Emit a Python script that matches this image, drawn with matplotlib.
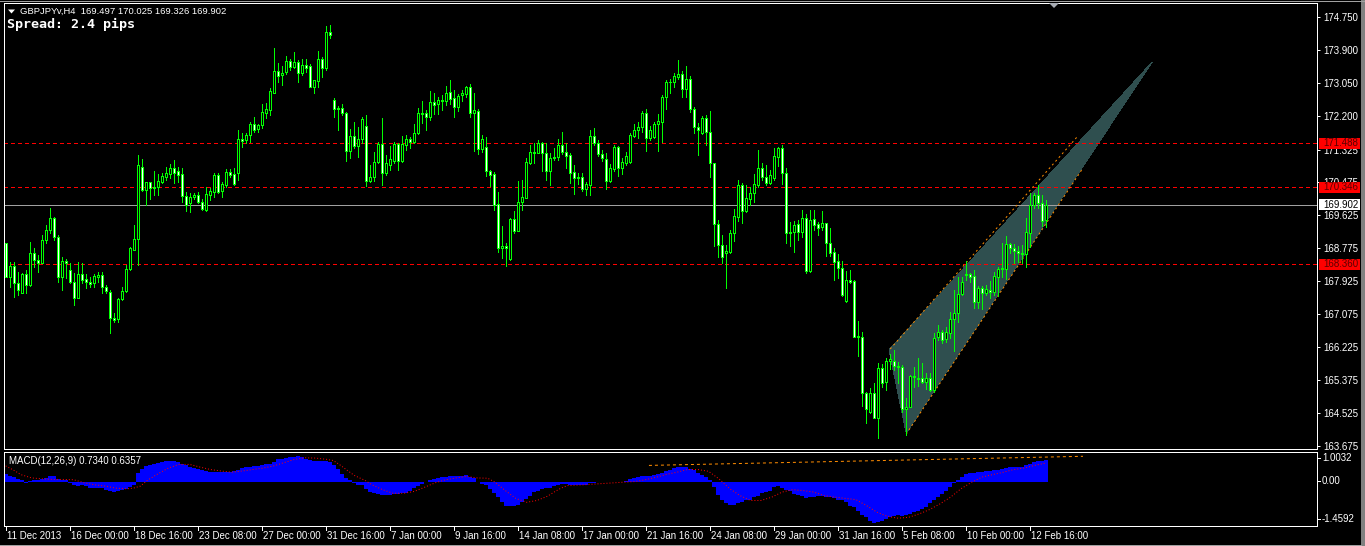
import matplotlib
matplotlib.use("Agg")
import matplotlib.pyplot as plt
from matplotlib.patches import Rectangle, Polygon
from matplotlib.collections import PatchCollection, LineCollection

plt.rcParams['font.family'] = ['Liberation Sans', 'DejaVu Sans']
plt.rcParams['lines.scale_dashes'] = False

# ---------------- text ----------------
symbol_line = "GBPJPYv,H4  169.497 170.025 169.326 169.902"
spread_text = "Spread: 2.4 pips"
macd_label = "MACD(12,26,9) 0.7340 0.6357"

# ---------------- price data (H4 bars) ----------------
opens = [
168.90, 168.04, 168.32, 167.87, 167.61, 168.11, 167.83, 168.64, 168.47, 168.40,
168.99, 169.25, 169.55, 169.06, 168.02, 168.45, 168.21, 167.89, 167.48, 168.11,
167.97, 167.90, 167.87, 168.04, 168.08, 167.77, 167.64, 166.96, 166.94, 167.46,
167.68, 168.23, 168.73, 169.01, 170.87, 170.28, 170.48, 170.33, 170.35, 170.50,
170.63, 170.69, 170.84, 170.76, 170.69, 170.13, 169.95, 170.09, 170.14, 169.97,
169.76, 170.15, 170.24, 170.67, 170.26, 170.41, 170.74, 170.69, 170.73, 171.59,
171.57, 171.69, 172.00, 171.85, 171.97, 172.28, 172.35, 172.80, 173.36, 173.25,
173.34, 173.62, 173.47, 173.60, 173.31, 173.51, 173.49, 172.95, 173.11, 173.66,
173.44, 174.37, 172.61, 172.38, 172.41, 172.28, 171.30, 171.68, 171.42, 171.59,
171.94, 170.52, 170.63, 171.01, 171.47, 170.73, 170.93, 171.04, 171.47, 171.04,
171.44, 171.60, 171.53, 171.75, 172.26, 172.26, 172.16, 172.55, 172.50, 172.61,
172.57, 172.81, 172.65, 172.42, 172.74, 172.76, 172.94, 172.28, 172.32, 171.35,
171.40, 170.78, 170.69, 169.92, 168.77, 168.83, 168.51, 169.52, 169.23, 169.97,
170.08, 170.99, 171.27, 171.25, 171.49, 171.25, 170.76, 171.10, 171.14, 171.44,
171.27, 171.19, 170.74, 170.58, 170.61, 170.31, 170.41, 171.68, 171.49, 171.21,
171.07, 170.52, 170.82, 171.40, 170.84, 170.99, 171.01, 171.68, 171.82, 171.90,
172.26, 171.62, 171.64, 171.99, 172.05, 172.68, 173.06, 173.06, 173.19, 173.28,
172.88, 173.14, 172.37, 171.90, 171.76, 172.13, 171.79, 170.97, 169.40, 168.86,
168.64, 168.69, 169.18, 169.59, 170.41, 169.75, 170.04, 170.20, 170.41, 170.84,
170.63, 170.45, 170.58, 171.14, 171.36, 170.71, 169.16, 169.20, 169.40, 169.20,
169.57, 168.20, 169.52, 169.40, 169.33, 169.42, 168.92, 168.67, 168.44, 168.26,
167.42, 167.95, 167.93, 166.49, 166.47, 165.03, 164.53, 165.04, 164.40, 165.67,
165.33, 165.86, 165.86, 165.73, 165.70, 164.61, 164.66, 165.47, 165.43, 165.41,
165.33, 165.41, 165.11, 166.47, 166.62, 166.42, 166.59, 166.94, 167.09, 167.58,
168.08, 168.11, 168.06, 167.39, 167.74, 167.63, 167.70, 167.65, 168.04, 168.23,
168.23, 168.89, 168.77, 168.70, 168.66, 168.63, 169.18, 169.89, 170.15, 169.95,
169.497]

highs = [
168.90, 168.43, 168.43, 168.17, 168.13, 168.21, 168.93, 168.77, 168.60, 169.12,
169.38, 169.81, 169.59, 169.12, 168.56, 168.51, 168.39, 168.13, 168.43, 168.39,
168.11, 168.02, 168.11, 168.17, 168.17, 167.83, 167.70, 167.09, 167.48, 167.78,
168.34, 168.82, 169.38, 171.19, 171.07, 170.50, 170.50, 170.76, 170.70, 170.73,
170.88, 170.95, 171.06, 170.88, 170.84, 170.24, 170.20, 170.21, 170.24, 170.04,
170.35, 170.33, 170.71, 170.71, 170.50, 170.82, 170.82, 170.84, 171.83, 171.75,
171.76, 172.05, 172.18, 172.00, 172.50, 172.52, 172.91, 173.94, 173.57, 173.49,
173.74, 173.66, 173.86, 173.64, 173.66, 173.66, 173.53, 173.13, 173.88, 173.71,
174.52, 174.55, 172.65, 172.45, 172.50, 172.31, 171.85, 172.04, 171.92, 172.16,
172.22, 170.93, 171.27, 171.51, 172.14, 171.19, 171.42, 171.51, 171.49, 171.68,
171.70, 171.64, 171.99, 172.39, 172.58, 172.35, 172.84, 172.78, 172.69, 172.74,
172.97, 173.13, 172.87, 172.76, 172.87, 172.97, 173.02, 172.78, 172.37, 171.70,
171.64, 170.80, 170.75, 170.23, 169.35, 168.90, 169.55, 169.75, 170.51, 170.54,
171.10, 171.44, 171.49, 171.57, 171.51, 171.49, 171.25, 171.36, 171.59, 171.79,
171.49, 171.23, 170.93, 170.71, 170.71, 170.50, 171.83, 171.88, 171.57, 171.32,
171.25, 170.95, 171.44, 171.42, 171.10, 171.27, 171.75, 171.99, 172.05, 172.32,
172.37, 171.94, 172.05, 172.24, 172.74, 173.13, 173.14, 173.30, 173.64, 173.37,
173.49, 173.23, 172.42, 172.02, 172.19, 172.22, 172.32, 170.97, 169.51, 169.12,
168.86, 169.26, 169.78, 170.54, 170.47, 170.41, 170.37, 170.70, 171.32, 170.97,
170.93, 170.80, 171.36, 171.40, 171.44, 170.84, 169.46, 169.49, 169.51, 169.76,
169.66, 169.76, 169.76, 169.46, 169.75, 169.44, 169.29, 168.77, 168.63, 168.45,
168.20, 168.21, 167.95, 166.90, 166.62, 165.07, 165.15, 165.30, 165.80, 165.78,
165.93, 166.04, 166.15, 165.84, 165.76, 164.90, 165.50, 165.71, 165.93, 165.80,
165.56, 165.54, 166.58, 166.79, 166.66, 166.75, 167.14, 167.70, 168.04, 168.02,
168.45, 168.14, 168.21, 167.80, 167.80, 167.83, 167.94, 168.17, 168.30, 168.92,
169.09, 168.92, 168.89, 168.83, 168.86, 169.55, 170.21, 170.21, 170.41, 170.15,
170.025]

lows = [
168.04, 167.78, 167.52, 167.57, 167.61, 167.61, 167.80, 168.30, 168.17, 168.39,
168.90, 169.16, 168.99, 167.91, 167.70, 168.00, 167.87, 167.31, 167.48, 167.87,
167.74, 167.78, 167.77, 167.91, 167.61, 167.61, 166.58, 166.88, 166.88, 167.44,
167.65, 168.21, 168.73, 168.33, 170.26, 169.89, 170.05, 170.15, 170.15, 170.45,
170.54, 170.58, 170.47, 170.50, 169.98, 169.75, 169.70, 170.04, 169.95, 169.76,
169.75, 170.01, 170.11, 170.21, 170.11, 170.37, 170.63, 170.41, 170.54, 171.40,
171.49, 171.53, 171.79, 171.79, 171.88, 172.13, 172.22, 172.78, 173.06, 173.00,
173.28, 173.38, 173.43, 173.08, 173.25, 173.34, 172.94, 172.80, 172.94, 173.21,
173.38, 174.22, 172.16, 171.82, 172.22, 171.04, 171.10, 171.36, 171.13, 171.49,
170.38, 170.50, 170.52, 170.97, 170.41, 170.67, 170.80, 170.97, 170.80, 171.01,
171.32, 171.36, 171.49, 171.73, 172.02, 171.82, 172.09, 172.25, 172.25, 172.35,
172.48, 172.51, 172.18, 172.33, 172.59, 172.69, 172.18, 171.30, 171.21, 171.27,
170.64, 170.38, 169.76, 168.69, 168.52, 168.32, 168.47, 169.16, 169.23, 169.76,
170.07, 170.95, 170.99, 171.23, 170.76, 170.54, 170.41, 171.06, 171.06, 171.21,
170.86, 170.47, 170.18, 170.44, 170.26, 170.15, 170.15, 171.44, 171.16, 171.04,
170.30, 170.50, 170.78, 170.64, 170.69, 170.93, 170.99, 171.66, 171.62, 171.79,
171.30, 171.57, 171.62, 171.30, 171.51, 172.37, 172.78, 172.95, 173.14, 172.68,
172.68, 172.31, 171.75, 171.19, 171.73, 171.44, 170.63, 168.83, 168.56, 168.40,
167.74, 168.64, 168.95, 169.49, 169.44, 169.70, 169.89, 169.98, 170.37, 170.54,
170.41, 170.44, 170.54, 170.90, 170.44, 168.92, 168.83, 168.69, 168.99, 169.06,
168.14, 168.17, 169.25, 169.12, 169.25, 168.58, 168.58, 167.95, 168.00, 167.54,
167.39, 167.87, 166.49, 166.00, 164.70, 164.27, 164.51, 164.38, 163.86, 165.20,
165.11, 165.65, 165.63, 165.28, 164.55, 163.95, 164.66, 165.20, 165.22, 165.28,
165.13, 165.09, 165.07, 166.40, 166.32, 166.36, 166.45, 166.13, 166.88, 167.57,
167.95, 167.91, 167.22, 167.22, 167.20, 167.57, 167.48, 167.57, 167.54, 168.04,
167.97, 168.64, 168.40, 168.43, 168.39, 168.30, 168.82, 169.81, 169.81, 169.35,
169.326]

closes = [
168.04, 168.32, 167.87, 167.70, 168.11, 167.83, 168.64, 168.47, 168.40, 168.99,
169.26, 169.55, 169.06, 168.02, 168.45, 168.39, 167.89, 167.48, 168.11, 167.95,
167.89, 167.85, 168.06, 168.08, 167.77, 167.66, 166.96, 166.92, 167.46, 167.68,
168.23, 168.77, 169.01, 170.93, 170.28, 170.50, 170.33, 170.37, 170.51, 170.64,
170.73, 170.84, 170.73, 170.67, 170.13, 169.89, 170.11, 170.15, 169.96, 169.78,
170.18, 170.26, 170.67, 170.24, 170.44, 170.74, 170.67, 170.44, 171.59, 171.56,
171.70, 172.00, 171.83, 171.96, 172.29, 172.38, 172.85, 173.36, 173.24, 173.31,
173.62, 173.47, 173.58, 173.31, 173.51, 173.44, 172.95, 173.13, 173.66, 173.44,
174.37, 174.29, 172.38, 172.41, 172.28, 171.30, 171.68, 171.42, 171.59, 172.11,
170.52, 170.61, 171.01, 171.47, 170.73, 170.97, 171.07, 171.47, 171.04, 171.47,
171.59, 171.53, 171.75, 172.26, 172.25, 172.18, 172.55, 172.49, 172.61, 172.57,
172.78, 172.63, 172.42, 172.71, 172.78, 172.94, 172.28, 172.34, 171.35, 171.59,
170.78, 170.68, 169.89, 168.77, 168.83, 168.77, 169.52, 169.23, 169.98, 170.09,
171.01, 171.27, 171.23, 171.49, 171.25, 170.76, 171.10, 171.14, 171.44, 171.27,
171.17, 170.73, 170.58, 170.61, 170.31, 170.44, 171.68, 171.49, 171.20, 171.12,
170.52, 170.84, 171.38, 170.84, 171.01, 171.16, 171.70, 171.83, 171.90, 172.26,
171.62, 171.83, 171.99, 172.06, 172.68, 173.06, 173.08, 173.23, 173.28, 172.88,
173.14, 172.37, 171.90, 171.83, 172.13, 171.79, 170.97, 169.40, 168.86, 168.54,
168.70, 169.16, 169.61, 170.41, 169.75, 170.07, 170.21, 170.44, 170.84, 170.63,
170.45, 170.67, 171.16, 171.36, 170.71, 169.16, 169.20, 169.38, 169.20, 169.57,
168.20, 169.51, 169.38, 169.29, 169.44, 168.92, 168.66, 168.43, 168.26, 167.57,
167.95, 167.91, 166.49, 166.51, 165.03, 164.61, 165.04, 164.40, 165.67, 165.30,
165.86, 165.90, 165.73, 165.70, 164.61, 164.66, 165.47, 165.44, 165.39, 165.33,
165.41, 165.11, 166.45, 166.62, 166.40, 166.62, 166.94, 167.09, 167.58, 167.89,
168.11, 168.04, 167.39, 167.74, 167.63, 167.71, 167.65, 168.06, 168.23, 168.26,
168.89, 168.77, 168.70, 168.66, 168.63, 169.20, 169.89, 170.15, 169.95, 169.49,
169.902]

# horizontal lines and price scale
red_levels = [171.488, 170.346, 168.360]
bid_price = 169.902
price_ticks = [174.750, 173.900, 173.050, 172.200, 171.325, 170.475, 169.625,
               168.775, 167.925, 167.075, 166.225, 165.375, 164.525, 163.675]
price_range = (163.586, 175.115)

# drawn channel object (bar position, price)
channel_fill = [(220.8, 166.145), (225.1, 164.00), (286.6, 173.59)]
channel_upper = [(221.1, 166.17), (267.8, 171.65)]
channel_lower = [(225.1, 163.97), (269.3, 170.85)]

# ---------------- MACD(12,26,9) ----------------
macd_hist = [
0.28, 0.22, 0.17, 0.11, 0.06, -0.02, 0.04, 0.07, 0.08, 0.09,
0.14, 0.19, 0.19, 0.11, 0.08, 0.07, -0.02, -0.11, -0.13, -0.11,
-0.13, -0.18, -0.19, -0.18, -0.20, -0.25, -0.31, -0.33, -0.31, -0.26,
-0.22, -0.17, -0.09, 0.30, 0.45, 0.54, 0.58, 0.61, 0.65, 0.67,
0.69, 0.70, 0.70, 0.67, 0.61, 0.56, 0.52, 0.48, 0.45, 0.39,
0.36, 0.35, 0.33, 0.33, 0.33, 0.33, 0.35, 0.38, 0.42, 0.47,
0.49, 0.51, 0.54, 0.55, 0.58, 0.59, 0.61, 0.67, 0.76, 0.78,
0.81, 0.84, 0.85, 0.86, 0.83, 0.78, 0.75, 0.70, 0.69, 0.69,
0.69, 0.67, 0.58, 0.45, 0.28, 0.14, 0.06, -0.03, -0.09, -0.11,
-0.22, -0.33, -0.37, -0.39, -0.42, -0.42, -0.42, -0.41, -0.39, -0.37,
-0.36, -0.28, -0.20, -0.13, -0.06, 0.02, 0.08, 0.11, 0.13, 0.17,
0.18, 0.19, 0.19, 0.20, 0.22, 0.25, 0.17, 0.13, 0.02, -0.06,
-0.11, -0.22, -0.36, -0.50, -0.67, -0.80, -0.81, -0.81, -0.76, -0.67,
-0.56, -0.45, -0.33, -0.28, -0.22, -0.19, -0.19, -0.14, -0.09, -0.07,
-0.06, -0.08, -0.09, -0.11, -0.11, -0.09, -0.04, -0.02, 0.00, 0.01,
0.00, -0.01, -0.01, 0.00, 0.02, 0.04, 0.09, 0.13, 0.17, 0.20,
0.22, 0.22, 0.25, 0.26, 0.31, 0.36, 0.42, 0.48, 0.50, 0.50,
0.49, 0.45, 0.39, 0.31, 0.25, 0.17, 0.08, -0.17, -0.42, -0.58,
-0.69, -0.76, -0.76, -0.69, -0.65, -0.61, -0.58, -0.50, -0.45, -0.37,
-0.33, -0.28, -0.17, -0.14, -0.20, -0.25, -0.31, -0.39, -0.42, -0.47,
-0.54, -0.50, -0.48, -0.47, -0.47, -0.48, -0.50, -0.52, -0.58, -0.61,
-0.67, -0.78, -0.84, -0.95, -1.09, -1.17, -1.28, -1.36, -1.34, -1.28,
-1.23, -1.17, -1.12, -1.09, -1.12, -1.09, -1.06, -1.00, -0.95, -0.89,
-0.84, -0.69, -0.61, -0.50, -0.39, -0.28, -0.17, -0.02, 0.06, 0.17,
0.28, 0.30, 0.31, 0.33, 0.33, 0.36, 0.38, 0.40, 0.42, 0.45,
0.47, 0.50, 0.51, 0.51, 0.52, 0.56, 0.61, 0.67, 0.70, 0.71, 0.734]

signal_x = [0, 2.1, 3.8, 6.5, 9.1, 11.7, 14.4, 17.0, 19.6, 22.3, 24.9, 27.5, 30.2,
            31.9, 33.7, 35.4, 38.1, 40.7, 43.3, 46.0, 48.6, 51.2, 53.9, 56.5, 59.1,
            61.7, 64.4, 67.0, 69.6, 72.3, 74.9, 77.5, 80.2, 81.9, 83.7, 85.4, 87.2,
            89.8, 91.6, 94.2, 96.8, 99.5, 102.1, 104.7, 107.4, 110.0, 112.6, 115.2,
            117.9, 120.5, 122.3, 124.9, 127.5, 130.2, 132.8, 135.4, 137.1, 138.8,
            140.6, 144.1, 147.6, 151.1, 154.6, 157.3, 159.9, 162.5, 165.2, 167.8,
            170.4, 173.1, 175.7, 178.3, 181.0, 183.6, 186.2, 188.8, 191.5, 194.1,
            196.7, 199.4, 202.0, 204.6, 207.3, 209.9, 212.5, 215.2, 217.8, 220.4,
            223.1, 225.7, 228.3, 231.0, 233.6, 236.2, 238.8, 241.5, 244.1, 246.7,
            249.4, 252.0, 254.6, 257.3, 260.0]
signal_y = [0.54, 0.39, 0.25, 0.14, 0.11, 0.09, 0.09, 0.08, -0.02, -0.09, -0.13, -0.20,
            -0.22, -0.20, -0.13, 0.06, 0.28, 0.47, 0.59, 0.59, 0.50, 0.42, 0.37, 0.33,
            0.37, 0.42, 0.47, 0.54, 0.65, 0.76, 0.81, 0.80, 0.76, 0.72, 0.56, 0.39,
            0.22, 0.06, -0.09, -0.25, -0.37, -0.37, -0.31, -0.17, -0.02, 0.08, 0.14,
            0.19, 0.14, 0.13, 0.00, -0.28, -0.54, -0.67, -0.61, -0.47, -0.33, -0.20,
            -0.11, -0.09, -0.06, -0.03, 0.00, 0.02, 0.08, 0.16, 0.26, 0.33, 0.42,
            0.42, 0.36, 0.11, -0.22, -0.45, -0.61, -0.61, -0.50, -0.33, -0.25, -0.28,
            -0.33, -0.45, -0.50, -0.54, -0.58, -0.78, -1.00, -1.14, -1.20, -1.17,
            -1.06, -0.91, -0.72, -0.50, -0.22, 0.00, 0.17, 0.25, 0.33, 0.42, 0.47,
            0.56, 0.6357]
macd_trend = [(160.8, 0.557), (269.3, 0.86)]
macd_range = (-1.4592, 1.0032)
macd_tick_values = ["1.0032", "0.00", "-1.4592"]

time_labels = ["11 Dec 2013", "16 Dec 00:00", "18 Dec 16:00", "23 Dec 08:00",
               "27 Dec 00:00", "31 Dec 16:00", "7 Jan 00:00", "9 Jan 16:00",
               "14 Jan 08:00", "17 Jan 00:00", "21 Jan 16:00", "24 Jan 08:00",
               "29 Jan 00:00", "31 Jan 16:00", "5 Feb 08:00", "10 Feb 00:00",
               "12 Feb 16:00"]
time_label_bars = [0, 16, 32, 48, 64, 80, 96, 112, 128, 144, 160, 176, 192, 208,
                   224, 240, 256]

# ---------------- figure ----------------
W, H = 1365, 546
LIME = '#00FF00'
PX = 0.72  # one pixel in points at 100 dpi
fig = plt.figure(figsize=(W / 100, H / 100), dpi=100, facecolor='black')

x_range = (-0.425, 327.8)

ax = fig.add_axes([4 / W, 1 - 449 / H, 1313 / W, 446 / H])
ax.set_facecolor('black')
ax.set_xlim(*x_range)
ax.set_ylim(*price_range)
for s in ax.spines.values():
    s.set_color('white'); s.set_linewidth(PX); s.set_antialiased(False)
ax.set_xticks([])
ax.yaxis.tick_right()
ax.set_yticks(price_ticks)
ax.set_yticklabels([f"{p:.3f}" for p in price_ticks])
ax.tick_params(axis='y', colors='white', length=3 * PX, width=PX, pad=3 * PX,
               labelsize=7, labelcolor='white')

n = len(closes)
xs = list(range(n))

# channel object (behind candles)
ax.add_patch(Polygon(channel_fill, closed=True, facecolor='#2F4F4F',
                     edgecolor='none', zorder=1, antialiased=False))
for seg in (channel_upper, channel_lower):
    ax.plot([seg[0][0], seg[1][0]], [seg[0][1], seg[1][1]], color='#FF8C00',
            lw=PX, dashes=(2 * PX, 3 * PX), zorder=1.5)

# horizontal lines
for lvl in red_levels:
    ax.axhline(lvl, color='#FF0000', lw=PX, dashes=(3 * PX, 3 * PX),
               antialiased=False, zorder=1.2)
ax.axhline(bid_price, color='#A0A0A0', lw=PX, antialiased=False, zorder=1.2)

# wicks
wicks = [[(i, lows[i]), (i, highs[i])] for i in xs]
ax.add_collection(LineCollection(wicks, colors=LIME, linewidths=PX,
                                 antialiaseds=False, zorder=2))
# bodies
rects, fcs = [], []
for i in xs:
    lo, hi = min(opens[i], closes[i]), max(opens[i], closes[i])
    rects.append(Rectangle((i - 0.25, lo), 0.5, hi - lo))
    fcs.append('white' if closes[i] < opens[i] else 'black')
ax.add_collection(PatchCollection(rects, facecolors=fcs, edgecolors=LIME,
                                  linewidths=PX, antialiased=False, zorder=3))

# ---------------- MACD window ----------------
ax2 = fig.add_axes([4 / W, 1 - 526 / H, 1313 / W, 74 / H])
ax2.set_facecolor('black')
ax2.set_xlim(*x_range)
ax2.set_ylim(*macd_range)
for s in ax2.spines.values():
    s.set_color('white'); s.set_linewidth(PX); s.set_antialiased(False)
ax2.set_xticks([]); ax2.set_yticks([])
ax2.bar(xs, macd_hist, width=1.0, color='#0000FF', linewidth=0,
        antialiased=False, zorder=2)
ax2.plot(signal_x, signal_y, color='#FF0000', lw=PX, dashes=(1 * PX, 2 * PX),
         zorder=3)
ax2.plot([macd_trend[0][0], macd_trend[1][0]], [macd_trend[0][1], macd_trend[1][1]],
         color='#FF8C00', lw=PX, dashes=(3 * PX, 3 * PX), zorder=3)

# ---------------- overlay in pixel coordinates ----------------
ov = fig.add_axes([0, 0, 1, 1], zorder=10)
ov.set_xlim(0, W); ov.set_ylim(H, 0); ov.axis('off')
ov.patch.set_alpha(0)


def price_px(p):
    return H - ax.transData.transform((0, p))[1]


def bar_px(b):
    return ax2.transData.transform((b, 0))[0]


# price labels of the lines on the scale
for lvl in red_levels:
    y = price_px(lvl)
    ov.add_patch(Rectangle((1318.5, y - 5.5), 41.5, 11, facecolor='#FF0000',
                           edgecolor='none', antialiased=False))
    ov.text(1323, y, f"{lvl:.3f}", color='#5a0000', fontsize=7, va='center',
            ha='left')
yb = price_px(bid_price)
ov.add_patch(Rectangle((1318.5, yb - 5.5), 41.5, 11, facecolor='white',
                       edgecolor='none', antialiased=False))
ov.text(1323, yb, f"{bid_price:.3f}", color='black', fontsize=7, va='center',
        ha='left')

# MACD scale labels
for val, ypx in zip(macd_tick_values, (458.3, 481.3, 519.0)):
    ov.plot([1317, 1320], [ypx, ypx], color='white', lw=PX, antialiased=False)
    ov.text(1322, ypx, val, color='white', fontsize=7, va='center', ha='left')

# time axis
for b, lab in zip(time_label_bars, time_labels):
    xp = bar_px(b)
    ov.plot([xp, xp], [526, 530], color='white', lw=PX, antialiased=False)
    ov.text(xp + 1, 536, lab, color='white', fontsize=7, va='center', ha='left')

# header texts
ov.add_patch(Polygon([(8, 9.5), (15, 9.5), (11.5, 13.5)], closed=True,
                     facecolor='white', edgecolor='none'))
ov.text(20, 11.7, symbol_line, color='white', fontsize=6.8, va='center', ha='left')
ov.text(7, 24, spread_text, color='white', fontsize=9.6, va='center', ha='left',
        family='DejaVu Sans Mono', fontweight='bold')
ov.text(9, 461.5, macd_label, color='white', fontsize=7, va='center', ha='left')

# chart-shift marker and window edges
ov.add_patch(Polygon([(1049, 3), (1059, 3), (1054, 8)], closed=True,
                     facecolor='#A8ACB4', edgecolor='none'))
ov.plot([0, W], [0.5, 0.5], color='#A0A0A0', lw=PX, antialiased=False)
ov.add_patch(Rectangle((1361, 0), 4, H, facecolor='#808080', edgecolor='none'))
ov.plot([0, 1361], [544.5, 544.5], color='#A0A0A0', lw=PX, antialiased=False)

fig.savefig('out.png', dpi=100, facecolor='black')
